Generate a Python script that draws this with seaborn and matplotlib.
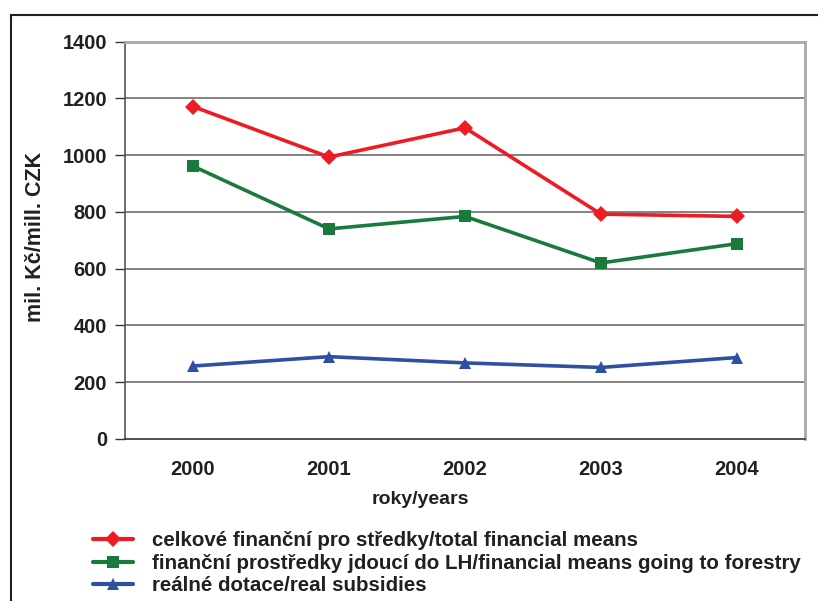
import matplotlib
matplotlib.use("Agg")
import matplotlib.pyplot as plt
import seaborn as sns
import pandas as pd
from matplotlib.patches import Rectangle

years = ["2000", "2001", "2002", "2003", "2004"]
total_means = [1171, 993, 1096, 792, 784]
forestry_means = [961, 740, 784, 620, 688]
real_subsidies = [257, 290, 268, 252, 287]
series_names = [
    "celkové finanční pro středky/total financial means",
    "finanční prostředky jdoucí do LH/financial means going to forestry",
    "reálné dotace/real subsidies",
]
y_ticks = [0, 200, 400, 600, 800, 1000, 1200, 1400]

sns.set_theme(style="white")
plt.rcParams['font.family'] = ['Liberation Sans', 'DejaVu Sans']

rows = []
for name, vals in zip(series_names, [total_means, forestry_means, real_subsidies]):
    for i, (yr, v) in enumerate(zip(years, vals)):
        rows.append({"idx": i, "year": yr, "value": v, "series": name})
df = pd.DataFrame(rows)

colors = ["#ED1C24", "#1A7A3C", "#2E4FA2"]
palette = dict(zip(series_names, colors))
markers = dict(zip(series_names, ["D", "s", "^"]))

fig = plt.figure(figsize=(8.18, 6.01), dpi=100)
ax = fig.add_axes([125/818, 1 - 439/601, (805-125)/818, (439-41.5)/601])

sns.lineplot(data=df, x="idx", y="value", hue="series", style="series",
             markers=markers, dashes=False, palette=palette, linewidth=2.6,
             markersize=8, markeredgewidth=0, ax=ax, legend=True)

txt = "#231F20"
ax.set_xlim(-0.5, 4.5)
ax.set_ylim(0, 1400)
ax.set_yticks(y_ticks)
ax.set_yticklabels([str(t) for t in y_ticks], fontsize=14.5, fontweight="bold", color=txt)
ax.set_xticks(range(len(years)))
ax.set_xticklabels(years, fontsize=14.5, fontweight="bold", color=txt)
ax.set_xticks([i - 0.5 for i in range(len(years) + 1)], minor=True)
ax.tick_params(axis="x", which="major", length=0, pad=15)
ax.tick_params(axis="x", which="minor", length=6, width=1, color="#333333", direction="out")
ax.tick_params(axis="y", which="major", length=7, width=1, color="#333333", direction="out", pad=6, left=True)
ax.set_xlabel("")
ax.set_ylabel("")
for y in y_ticks[1:-1]:
    ax.axhline(y, color="#6d6d6d", lw=1.2, zorder=0)
for s in ["top", "right"]:
    ax.spines[s].set_color("#a8a8a8")
    ax.spines[s].set_linewidth(2)
ax.spines["left"].set_color("#555555")
ax.spines["left"].set_linewidth(1.2)
ax.spines["bottom"].set_color("#333333")
ax.spines["bottom"].set_linewidth(1.2)

handles, labels = ax.get_legend_handles_labels()
ax.get_legend().remove()
leg = fig.legend(handles, labels, loc="upper left", bbox_to_anchor=(93/818, 1 - 531/601),
                 frameon=False, prop={"weight": "bold", "size": 14.8}, handlelength=1.95,
                 handletextpad=0.9, labelspacing=0.18, borderaxespad=0, borderpad=0)
for t in leg.get_texts():
    t.set_color(txt)
for h in leg.legend_handles:
    h.set_linewidth(3.0)

fig.text(420/818, 1 - 500/601, "roky/years", ha="center", va="center",
         fontsize=14, fontweight="bold", color=txt)
fig.text(36/818, 1 - 237/601, "mil. Kč/mill. CZK", ha="center", va="center",
         rotation=90, fontsize=15.5, fontweight="bold", color=txt)

fig.patches.append(Rectangle((11/818, -0.1), 1.0, 1 - 14.5/601 + 0.1, transform=fig.transFigure,
                             fill=False, edgecolor=txt, linewidth=1.5))

fig.savefig("out.png", dpi=100)
